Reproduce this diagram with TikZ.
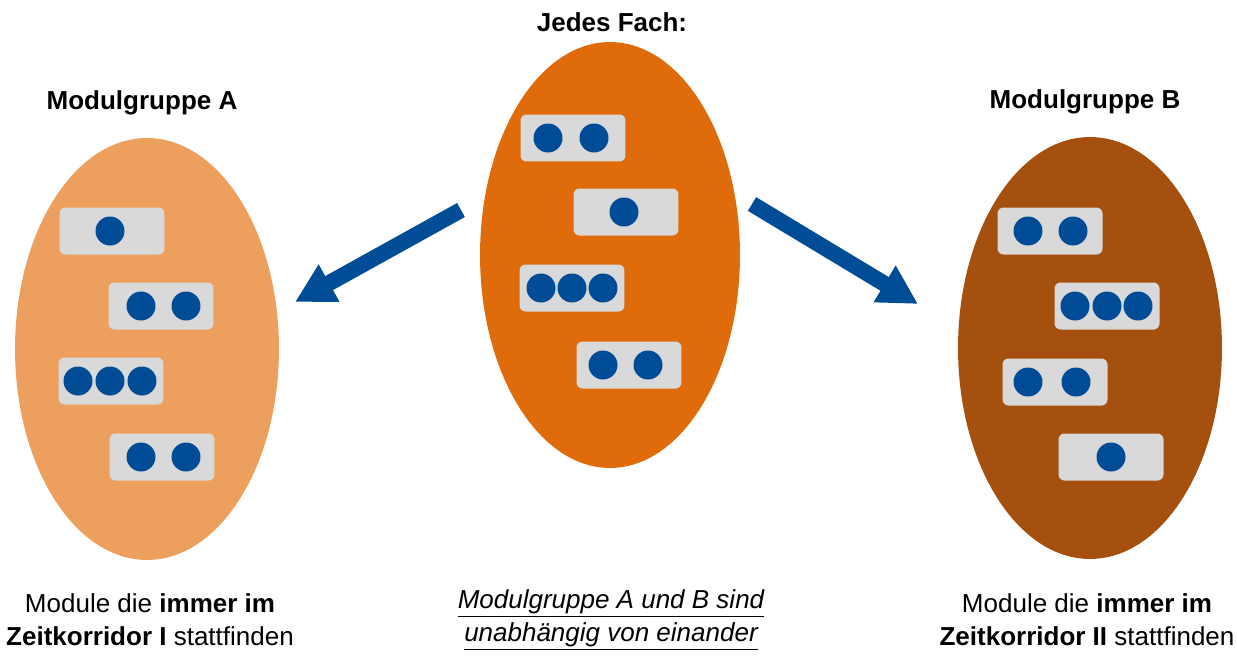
\documentclass[tikz,border=0pt]{standalone}
\usepackage{fontspec}
\setmainfont{Liberation Sans}
\usetikzlibrary{arrows.meta,shapes.geometric}
\definecolor{gruppeA}{RGB}{237,160,94}
\definecolor{fachorange}{RGB}{224,107,11}
\definecolor{gruppeB}{RGB}{165,80,14}
\definecolor{boxgrau}{RGB}{217,217,217}
\definecolor{blau}{RGB}{0,76,151}

\begin{document}
\begin{tikzpicture}[x=0.02cm,y=-0.02cm]
\tikzstyle{every node}+=[inner sep=0pt,font=\fontsize{14.8}{18.8}\selectfont]
\tikzstyle{topf}=[ellipse,minimum width=5.28cm,minimum height=8.44cm]
\tikzstyle{modul}=[fill=boxgrau,rounded corners=0.12cm,minimum width=2.1cm,minimum height=0.94cm]
\tikzstyle{punkt}=[circle,fill=blau,minimum size=0.58cm]
\tikzstyle{pfeil}=[draw=blau,line width=0.32cm,-{Triangle[width=0.8cm,length=0.78cm]}]
\useasboundingbox (0,0) rectangle (1237,656);
% die drei Ellipsen
\node[topf,fill=gruppeA] (grpA) at (147,349) {};
\node[topf,fill=fachorange,minimum width=5.2cm,minimum height=8.52cm] (fach) at (610,255) {};
\node[topf,fill=gruppeB] (grpB) at (1090,348) {};
% Modulgruppe A
\node[modul] (a1) at (112,231) {};
\node[modul] (a2) at (161,306) {};
\node[modul] (a3) at (111,381) {};
\node[modul] (a4) at (162,457) {};
\foreach \x/\y in {110/231, 141/306, 186/306, 78/381, 110/381, 142/381, 141/457, 186/457}
  \node[punkt] at (\x,\y) {};
% Jedes Fach
\node[modul] (f1) at (573,138) {};
\node[modul] (f2) at (626,212) {};
\node[modul] (f3) at (572,288) {};
\node[modul] (f4) at (629,365) {};
\foreach \x/\y in {548/138, 594/138, 624/212, 541/288, 572/288, 603/288, 603/365, 648/365}
  \node[punkt] at (\x,\y) {};
% Modulgruppe B
\node[modul] (b1) at (1050,231) {};
\node[modul] (b2) at (1107,306) {};
\node[modul] (b3) at (1055,382) {};
\node[modul] (b4) at (1111,457) {};
\foreach \x/\y in {1028/231, 1073/231, 1075/306, 1107/306, 1138/306, 1028/382, 1076/382, 1111/457}
  \node[punkt] at (\x,\y) {};
% Pfeile
\coordinate (pa0) at (461,210);
\coordinate (pa1) at (295,302);
\coordinate (pb0) at (752,204);
\coordinate (pb1) at (918,304);
\draw[pfeil] (pa0) -- (pa1);
\draw[pfeil] (pb0) -- (pb1);
% Texte
\node[font=\fontsize{14.8}{18.8}\selectfont\bfseries] (tfach) at (612,22) {Jedes Fach:};
\node[font=\fontsize{14.8}{18.8}\selectfont\bfseries] (tA) at (142,103) {Modulgruppe A};
\node[font=\fontsize{14.8}{18.8}\selectfont\bfseries] (tB) at (1085,102) {Modulgruppe B};
\node[align=center] (uA) at (150,620) {Module die \textbf{immer im}\\\textbf{Zeitkorridor I} stattfinden};
\node[align=center,font=\fontsize{14.8}{18.8}\selectfont\itshape] (uM) at (611,620) {\underline{Modulgruppe A und B sind}\\\underline{unabhängig von einander}};
\node[align=center] (uB) at (1087,620) {Module die \textbf{immer im}\\\textbf{Zeitkorridor II} stattfinden};
\end{tikzpicture}
\end{document}
